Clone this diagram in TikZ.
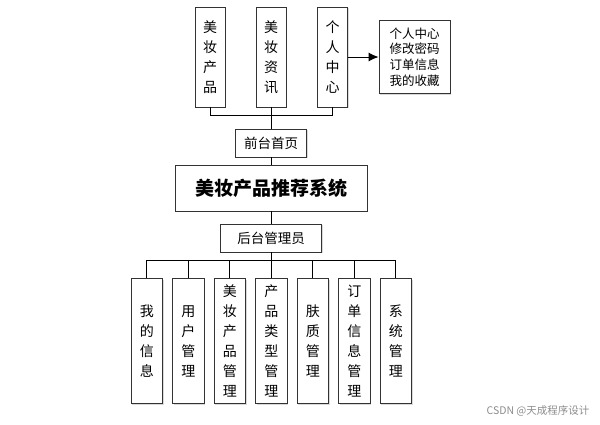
\documentclass[tikz,border=0pt]{standalone}
\usepackage{fontspec}
\setmainfont{Noto Sans CJK SC}
\usetikzlibrary{arrows.meta,shadows}

\tikzset{
  box/.style={draw=black!80, fill=white, line width=0.8pt, inner sep=0pt,
    align=center, drop shadow={shadow xshift=1.2pt, shadow yshift=-1.2pt, fill=black!25, opacity=0.6}},
  colbox/.style={box, minimum width=30pt, font=\fontsize{14}{20}\selectfont},
  link/.style={draw=black, line width=0.9pt}
}

\begin{document}
\begin{tikzpicture}[x=1pt, y=-1pt]
    \useasboundingbox (0,0) rectangle (600,424);
    \coordinate (TopBus) at (271,115.3);
    \coordinate (BotBus) at (271,260.7);

    % front end modules
    \node[colbox, minimum height=100pt] (Prod) at (210,57) {美\\妆\\产\\品};
    \node[colbox, minimum height=100pt] (News) at (271,57) {美\\妆\\资\\讯};
    \node[colbox, minimum height=100pt] (Home) at (332.7,57) {个\\人\\中\\心};
    \node[box, minimum width=71pt, minimum height=73pt,
      font=\fontsize{12.5}{15.7}\selectfont] (Info) at (414.5,57)
      {个人中心\\修改密码\\订单信息\\我的收藏};

    \node[box, minimum width=71pt, minimum height=28pt,
      font=\fontsize{13.5}{16}\selectfont] (Front) at (271,143) {前台首页};
    \node[box, minimum width=192pt, minimum height=46pt,
      font=\fontsize{19}{22}\selectfont\bfseries] (Sys) at (271,188) {美妆产品推荐系统};
    \node[box, minimum width=101pt, minimum height=28pt,
      font=\fontsize{13.5}{16}\selectfont] (Admin) at (271,238) {后台管理员};

    % back end modules
    \foreach \name [count=\i] in {我\\的\\信\\息, 用\\户\\管\\理, 美\\妆\\产\\品\\管\\理,
        产\\品\\类\\型\\管\\理, 肤\\质\\管\\理, 订\\单\\信\\息\\管\\理, 系\\统\\管\\理}{%
      \node[colbox, minimum width=31.7pt, minimum height=125pt] (B\i)
        at ({146.8+41.5*(\i-1)},341) {\name};
    }

    \draw[link] (Prod.south) |- (TopBus) -| (Home.south);
    \draw[link] (News.south) -- (Front.north);
    \draw[link, -{Latex[length=10pt,width=9pt]}] (Home.east) -- (Info.west);
    \draw[link] (Front.south) -- (Sys.north);
    \draw[link] (Sys.south) -- (Admin.north);
    \draw[link] (Admin.south) -- (BotBus);
    \foreach \i in {1,...,7}{%
      \draw[link] (BotBus) -| (B\i.north);
    }

    \node[text=black!45, font=\fontsize{10.5}{12}\selectfont] (Mark) at (538,411) {CSDN @天成程序设计};
\end{tikzpicture}
\end{document}
